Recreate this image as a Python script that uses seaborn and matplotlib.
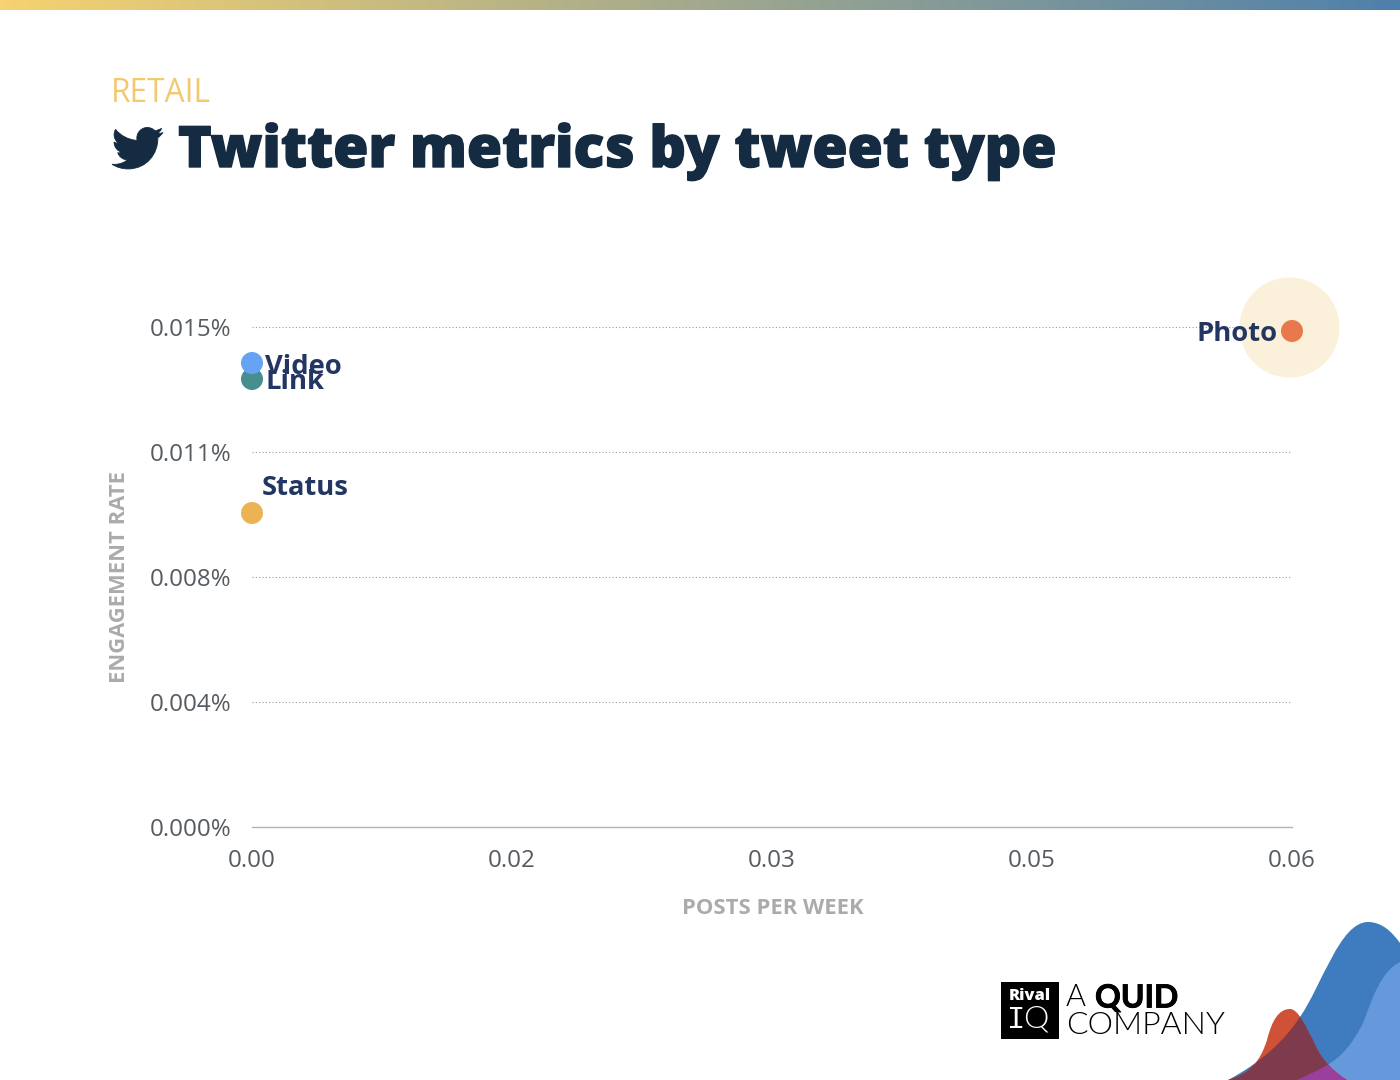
import re
import numpy as np
import pandas as pd
import matplotlib
matplotlib.use("Agg")
import matplotlib.pyplot as plt
import matplotlib.patheffects as pe
from matplotlib.colors import LinearSegmentedColormap
from matplotlib.patches import PathPatch, Rectangle
from matplotlib.path import Path
import seaborn as sns

tweet_types = ["Status", "Link", "Video", "Photo"]
posts_per_week = [0.0, 0.0, 0.0, 0.06]
engagement_rate = [0.00942, 0.01344, 0.01392, 0.01488]
point_colors = ["#EBB354", "#478F8F", "#66A3F5", "#E8794D"]
halo_x = [0.05985]
halo_y = [0.015]
x_ticks = [0.0, 0.015, 0.03, 0.045, 0.06]
x_tick_labels = ["0.00", "0.02", "0.03", "0.05", "0.06"]
y_ticks = [0.0, 0.00375, 0.0075, 0.01125, 0.015]
y_tick_labels = ["0.000%", "0.004%", "0.008%", "0.011%", "0.015%"]

sns.set_theme(style="white")
plt.rcParams["font.family"] = ["Open Sans", "DejaVu Sans"]

W, H = 1400, 1080
fig = plt.figure(figsize=(14, 10.8), dpi=100)
ax = fig.add_axes([252 / W, 1 - 827 / H, 1040 / W, 500 / H])

df = pd.DataFrame({"type": tweet_types, "posts": posts_per_week, "rate": engagement_rate})

ax.scatter(halo_x, halo_y, s=5184, color="#FBF0DA", linewidths=0, clip_on=False, zorder=1)
sns.scatterplot(data=df, x="posts", y="rate", hue="type", palette=point_colors, s=251,
                linewidth=0, legend=False, clip_on=False, zorder=3, ax=ax)

ax.set_xlim(0, 0.06)
ax.set_ylim(0, 0.015)
ax.set_xticks(x_ticks)
ax.set_xticklabels(x_tick_labels, fontsize=17.4, color="#555B60")
ax.set_yticks(y_ticks)
ax.set_yticklabels(y_tick_labels, fontsize=17.4, color="#555B60")
ax.tick_params(axis="both", length=0)
ax.tick_params(axis="x", pad=16)
ax.tick_params(axis="y", pad=15)
ax.grid(False)
ax.yaxis.grid(True, linestyle=(0, (1, 2)), color="#9A9A9A", linewidth=0.8)
ax.set_axisbelow(True)
for side in ["top", "right", "left"]:
    ax.spines[side].set_visible(False)
ax.spines["bottom"].set_color("#B4B4B4")
ax.spines["bottom"].set_linewidth(1)
ax.set_xlabel("")
ax.set_ylabel("")

# point labels, offsets in pixels from the point
offsets = {"Status": (10, 25, "left"), "Link": (14, -3, "left"), "Video": (13, -4, "left"), "Photo": (-14, -3, "right")}
for name, px, py in zip(tweet_types, posts_per_week, engagement_rate):
    dx, dy, ha = offsets[name]
    ax.annotate(name, (px, py), xytext=(dx * 0.72, dy * 0.72), textcoords="offset points",
                ha=ha, va="center", fontsize=19.7, fontweight="bold", color="#233663",
                annotation_clip=False, zorder=4)

# everything around the chart goes on an overlay in pixel coordinates
over = fig.add_axes([0, 0, 1, 1], zorder=-1)
over.set_xlim(0, W)
over.set_ylim(H, 0)
over.axis("off")

# gradient strip along the top
strip = LinearSegmentedColormap.from_list("strip", ["#F6D270", "#4F80AB"])
over.imshow(np.linspace(0, 1, 256).reshape(1, -1), cmap=strip, extent=(0, W, 10, 0), aspect="auto")
over.set_xlim(0, W)
over.set_ylim(H, 0)

over.text(111, 93, "RETAIL", fontsize=22.8, color="#F3C96F", va="center", ha="left")
title = over.text(178, 152, "Twitter metrics by tweet type", fontsize=41, fontweight=800,
                  color="#142B42", va="center", ha="left")
title.set_path_effects([pe.withStroke(linewidth=1.0, foreground="#142B42")])
over.text(682, 909, "POSTS PER WEEK", fontsize=15.8, fontweight="bold", color="#ABABAB", va="center", ha="left")
over.text(119.5, 577, "ENGAGEMENT RATE", fontsize=15.8, fontweight="bold", color="#ABABAB",
          va="center", ha="center", rotation=90)

# bird icon
BIRD = ("M459.37 151.716c.325 4.548.325 9.097.325 13.645 0 138.72-105.583 298.558-298.558 298.558"
        "-59.452 0-114.68-17.219-161.137-47.106 8.447.974 16.568 1.299 25.34 1.299 49.055 0 94.213-16.568 130.274-44.832"
        "-46.132-.975-84.792-31.188-98.112-72.772 6.498.974 12.995 1.624 19.818 1.624 9.421 0 18.843-1.3 27.614-3.573"
        "-48.081-9.747-84.143-51.98-84.143-102.985v-1.299c13.969 7.797 30.214 12.67 47.431 13.319"
        "-28.264-18.843-46.781-51.005-46.781-87.391 0-19.492 5.197-37.36 14.294-52.954 51.655 63.675 129.3 105.258 216.365 109.807"
        "-1.624-7.797-2.599-15.918-2.599-24.04 0-57.828 46.782-104.934 104.934-104.934 30.213 0 57.502 12.67 76.67 33.137"
        " 23.715-4.548 46.456-13.32 66.599-25.34-7.798 24.366-24.366 44.833-46.132 57.827 21.117-2.273 41.584-8.122 60.426-16.243"
        "-14.292 20.791-32.161 39.308-52.628 54.253z")


def parse_icon(d, scale, ox, oy):
    verts, codes = [], []
    x, y = 0.0, 0.0
    for cmd, args in re.findall(r"([MvczZ])([^MvczZ]*)", d):
        nums = [float(n) for n in re.findall(r"-?\d*\.?\d+", args)]
        if cmd == "M":
            x, y = nums[0], nums[1]
            verts.append((x, y))
            codes.append(Path.MOVETO)
        elif cmd == "v":
            y += nums[0]
            verts.append((x, y))
            codes.append(Path.LINETO)
        elif cmd == "c":
            for i in range(0, len(nums), 6):
                a = nums[i:i + 6]
                verts += [(x + a[0], y + a[1]), (x + a[2], y + a[3]), (x + a[4], y + a[5])]
                codes += [Path.CURVE4] * 3
                x, y = x + a[4], y + a[5]
        else:
            verts.append(verts[0])
            codes.append(Path.CLOSEPOLY)
    return Path([(ox + vx * scale, oy + vy * scale) for vx, vy in verts], codes)


bird_scale = 51 / 512
over.add_patch(PathPatch(parse_icon(BIRD, bird_scale, 112, 127.5 - 48 * bird_scale), fc="#142B42", ec="#142B42", lw=0.6))

# logo
over.add_patch(Rectangle((1001, 982), 58, 57, fc="black", ec="none"))
over.text(1030, 996, "Rival", fontsize=11.8, fontweight=800, color="white", ha="center", va="center")
over.text(1016, 1020, "I", fontsize=22, family="Liberation Mono", color="white", ha="center", va="center")
over.text(1036, 1019, "Q", fontsize=23, fontweight=300, family="Lato", color="white", ha="center", va="center")
over.text(1066, 998, "A", fontsize=22, fontweight=300, family="Lato", color="black", ha="left", va="center")
quid = over.text(1095, 998, "QUID", fontsize=23, fontweight="bold", family="Lato", color="black", ha="left", va="center")
quid.set_path_effects([pe.withStroke(linewidth=0.6, foreground="black")])
over.text(1066, 1025, "COMPANY", fontsize=23, fontweight=300, family="Lato", color="black", ha="left", va="center")


# hills in the corner
def blob(points):
    codes = [Path.MOVETO] + [Path.CURVE4] * (len(points) - 1)
    return Path(points, codes)


blue = blob([(1228, 1080), (1262, 1062), (1285, 1040), (1300, 1017),
             (1322, 985), (1340, 922), (1368, 922),
             (1382, 922), (1392, 932), (1400, 943),
             (1400, 990), (1400, 1040), (1400, 1080),
             (1340, 1080), (1280, 1080), (1228, 1080)])
light = blob([(1297, 1080), (1307, 1075), (1318, 1071), (1327, 1065),
              (1340, 1058), (1352, 1045), (1363, 1023),
              (1372, 1000), (1380, 972), (1400, 962),
              (1400, 1000), (1400, 1040), (1400, 1080),
              (1365, 1080), (1330, 1080), (1297, 1080)])
red = blob([(1228, 1080), (1250, 1073), (1260, 1062), (1267, 1040),
            (1272, 1020), (1279, 1009), (1290, 1009),
            (1298, 1009), (1305, 1025), (1313, 1040),
            (1319, 1055), (1330, 1070), (1347, 1080),
            (1300, 1080), (1260, 1080), (1228, 1080)])

over.add_patch(PathPatch(blue, fc="#3E7BBF", ec="none"))
over.add_patch(PathPatch(light, fc="#6699DB", ec="none"))
over.add_patch(PathPatch(red, fc="#CF5136", ec="none"))
overlap = PathPatch(blue, fc="#7E3B4D", ec="none")
over.add_patch(overlap)
overlap.set_clip_path(PathPatch(red, transform=over.transData))
purple = PathPatch(light, fc="#9B3F9F", ec="none")
over.add_patch(purple)
purple.set_clip_path(PathPatch(red, transform=over.transData))

ax.patch.set_alpha(0)
fig.savefig("out.png", dpi=100, facecolor="white")
